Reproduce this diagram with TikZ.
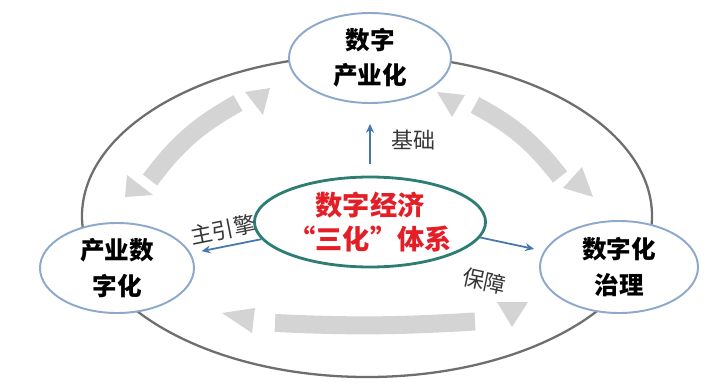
\documentclass[tikz,border=0pt]{standalone}
\usepackage{fontspec}
\setmainfont{Noto Sans CJK SC}
\usetikzlibrary{arrows.meta,shapes.geometric}

\definecolor{rimgray}{RGB}{110,110,110}
\definecolor{loopgray}{RGB}{212,212,212}
\definecolor{ringblue}{RGB}{140,168,205}
\definecolor{coreteal}{RGB}{45,125,115}
\definecolor{corered}{RGB}{228,30,38}
\definecolor{linkblue}{RGB}{70,118,172}
\definecolor{labelgray}{RGB}{55,55,55}

\tikzset{band/.style={draw=loopgray,line width=0.36cm}}

\begin{document}
\begin{tikzpicture}
\useasboundingbox (0,0) rectangle (14.5,7.7);

% outer loop
\draw[rimgray,line width=1.3pt] (7.34,3.38) ellipse [x radius=5.7,y radius=3.22];

% gray two-way arrows
\draw[band] (4.76,5.64) to[bend right=12] (3.00,4.10);
\fill[loopgray] (5.40,5.94) -- (4.90,5.86) -- (5.26,5.40) -- cycle;
\fill[loopgray] (2.50,3.76) -- (2.54,4.20) -- (3.06,3.80) -- cycle;

\draw[band] (9.50,5.60) to[bend left=12] (11.20,4.16);
\fill[loopgray] (8.74,5.86) -- (9.30,5.80) -- (9.04,5.36) -- cycle;
\fill[loopgray] (11.86,3.76) -- (11.26,3.94) -- (11.64,4.36) -- cycle;

\draw[band] (5.50,1.24) to[bend right=3] (9.50,1.27);
\fill[loopgray] (4.44,1.44) -- (5.10,1.54) -- (5.04,1.04) -- cycle;
\fill[loopgray] (9.94,1.66) -- (10.56,1.66) -- (10.24,1.16) -- cycle;

\begin{scope}[every node/.style={ellipse,draw=ringblue,line width=1.1pt,fill=white,
    inner sep=0pt,align=center,font=\fontsize{14}{20}\selectfont\bfseries}]
    \node[minimum width=3.24cm,minimum height=1.8cm] (digind) at (7.40,6.54) {数字\\产业化};
    \node[minimum width=3.08cm,minimum height=1.8cm] (inddig) at (2.34,2.34) {产业数\\字化};
    \node[minimum width=3.16cm,minimum height=1.84cm] (govern) at (12.38,2.36) {数字化\\治理};
    \node[draw=coreteal,line width=1.6pt,text=corered,minimum width=4.0cm,minimum height=1.8cm,
          font=\fontsize{15.5}{19}\selectfont\bfseries] (core) at (7.40,3.26) {数字经济\\“三化”体系};
\end{scope}

\begin{scope}[>={Stealth[length=5pt,width=4.5pt]},
              every node/.style={font=\fontsize{12.5}{14}\selectfont,text=labelgray},
              every edge/.style={draw=linkblue,line width=1pt}]
    \path [->] (core.north) edge[shorten <=0.24cm,shorten >=0.4cm] node[right=0.3cm] {基础} (digind.south);
    \path [->] (core.189) edge[shorten >=0.22cm] node[sloped,above=0pt,pos=0.5] {主引擎} (inddig);
    \path [->] (core.-8) edge[shorten >=0.2cm] node[sloped,below=0.5cm,pos=0.2] {保障} (govern);
\end{scope}
\end{tikzpicture}
\end{document}
